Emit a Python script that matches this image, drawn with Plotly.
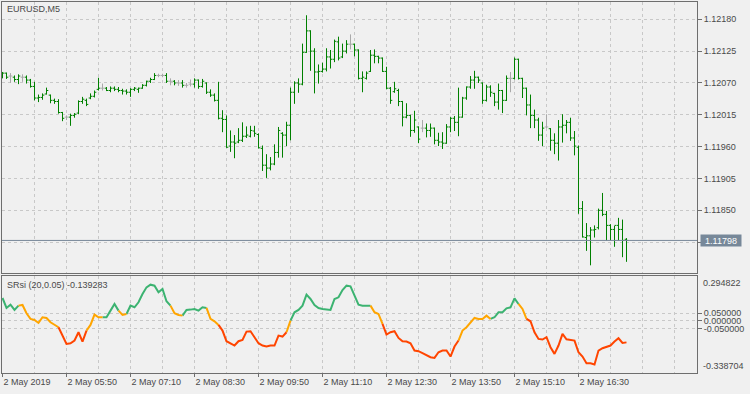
import plotly.graph_objects as go

# ---------------- data ----------------
x_labels = ["2 May 2019", "2 May 05:50", "2 May 07:10", "2 May 08:30", "2 May 09:50",
            "2 May 11:10", "2 May 12:30", "2 May 13:50", "2 May 15:10", "2 May 16:30"]
x_label_pos = [0, 16, 32, 48, 64, 80, 96, 112, 128, 144]

price_ticks = [1.11795, 1.11850, 1.11905, 1.11960, 1.12015, 1.12070, 1.12125, 1.12180]
price_tick_text = ["", "1.11850", "1.11905", "1.11960", "1.12015", "1.12070", "1.12125", "1.12180"]
current_price = 1.11798

ind_ticks = [0.05, 0.0, -0.05]
ind_tick_text = ["0.050000", "0.000000", "-0.050000"]
ind_max = 0.294822
ind_min = -0.338704
ind_last = -0.139283

open_ = [1.12085, 1.12087, 1.12082, 1.12080, 1.12076, 1.12080, 1.12080, 1.12075, 1.12064, 1.12044,
         1.12045, 1.12051, 1.12049, 1.12040, 1.12038, 1.12019, 1.12011, 1.12011, 1.12014, 1.12018,
         1.12038, 1.12040, 1.12044, 1.12047, 1.12059, 1.12061, 1.12061, 1.12057, 1.12061, 1.12059,
         1.12057, 1.12056, 1.12054, 1.12059, 1.12059, 1.12061, 1.12066, 1.12073, 1.12076, 1.12083,
         1.12083, 1.12083, 1.12073, 1.12073, 1.12070, 1.12070, 1.12066, 1.12068, 1.12068, 1.12075,
         1.12064, 1.12070, 1.12054, 1.12049, 1.12040, 1.12009, 1.12007, 1.11961, 1.11968, 1.11968,
         1.11971, 1.11978, 1.11978, 1.11987, 1.11981, 1.11957, 1.11928, 1.11923, 1.11930, 1.11950,
         1.11983, 1.11980, 1.11997, 1.12054, 1.12070, 1.12068, 1.12123, 1.12160, 1.12125, 1.12089,
         1.12090, 1.12094, 1.12115, 1.12111, 1.12141, 1.12115, 1.12125, 1.12137, 1.12137, 1.12127,
         1.12078, 1.12078, 1.12090, 1.12118, 1.12116, 1.12113, 1.12090, 1.12061, 1.12055, 1.12057,
         1.12038, 1.12011, 1.12014, 1.11988, 1.11994, 1.11992, 1.11992, 1.11988, 1.11992, 1.11971,
         1.11968, 1.11966, 1.11994, 1.12009, 1.12002, 1.12011, 1.12044, 1.12063, 1.12075, 1.12080,
         1.12070, 1.12040, 1.12063, 1.12052, 1.12037, 1.12057, 1.12040, 1.12078, 1.12078, 1.12111,
         1.12078, 1.12061, 1.12032, 1.12014, 1.12006, 1.11980, 1.11994, 1.11991, 1.11971, 1.11966,
         1.11994, 1.11997, 1.12002, 1.11975, 1.11959, 1.11853, 1.11803, 1.11806, 1.11816, 1.11820,
         1.11850, 1.11843, 1.11824, 1.11817, 1.11824, 1.11817, 1.11800]
high = [1.12089, 1.12088, 1.12087, 1.12083, 1.12085, 1.12085, 1.12083, 1.12077, 1.12072, 1.12050,
        1.12052, 1.12062, 1.12050, 1.12043, 1.12042, 1.12020, 1.12014, 1.12017, 1.12018, 1.12040,
        1.12046, 1.12043, 1.12052, 1.12057, 1.12079, 1.12069, 1.12063, 1.12064, 1.12064, 1.12063,
        1.12060, 1.12059, 1.12061, 1.12063, 1.12062, 1.12068, 1.12074, 1.12079, 1.12087, 1.12086,
        1.12086, 1.12087, 1.12078, 1.12075, 1.12075, 1.12075, 1.12070, 1.12076, 1.12078, 1.12076,
        1.12077, 1.12071, 1.12059, 1.12052, 1.12072, 1.12023, 1.12014, 1.11988, 1.11980, 1.11992,
        1.12002, 1.11995, 1.11996, 1.11996, 1.11983, 1.11962, 1.11947, 1.11942, 1.11964, 1.11994,
        1.11985, 1.12003, 1.12062, 1.12073, 1.12078, 1.12138, 1.12187, 1.12161, 1.12130, 1.12102,
        1.12105, 1.12130, 1.12127, 1.12145, 1.12150, 1.12138, 1.12144, 1.12154, 1.12138, 1.12128,
        1.12090, 1.12090, 1.12127, 1.12128, 1.12117, 1.12114, 1.12098, 1.12063, 1.12072, 1.12060,
        1.12039, 1.12035, 1.12015, 1.12022, 1.11995, 1.12006, 1.12000, 1.12000, 1.11993, 1.11984,
        1.11985, 1.11999, 1.12011, 1.12013, 1.12062, 1.12046, 1.12064, 1.12082, 1.12091, 1.12081,
        1.12071, 1.12067, 1.12066, 1.12053, 1.12069, 1.12058, 1.12083, 1.12089, 1.12114, 1.12112,
        1.12079, 1.12062, 1.12050, 1.12024, 1.12010, 1.12003, 1.12016, 1.11992, 1.11983, 1.12006,
        1.12016, 1.12006, 1.12010, 1.11987, 1.11962, 1.11866, 1.11828, 1.11821, 1.11824, 1.11853,
        1.11880, 1.11849, 1.11826, 1.11823, 1.11837, 1.11834, 1.11802]
low = [1.12078, 1.12077, 1.12070, 1.12072, 1.12068, 1.12072, 1.12069, 1.12062, 1.12040, 1.12037,
       1.12041, 1.12050, 1.12035, 1.12034, 1.12017, 1.12004, 1.12006, 1.11996, 1.12010, 1.12016,
       1.12034, 1.12030, 1.12042, 1.12045, 1.12057, 1.12057, 1.12056, 1.12054, 1.12056, 1.12054,
       1.12050, 1.12050, 1.12046, 1.12056, 1.12053, 1.12060, 1.12064, 1.12070, 1.12075, 1.12080,
       1.12080, 1.12070, 1.12066, 1.12066, 1.12065, 1.12062, 1.12062, 1.12064, 1.12062, 1.12060,
       1.12062, 1.12051, 1.12046, 1.12038, 1.12007, 1.11985, 1.11958, 1.11951, 1.11940, 1.11966,
       1.11968, 1.11975, 1.11976, 1.11977, 1.11957, 1.11918, 1.11906, 1.11919, 1.11928, 1.11941,
       1.11941, 1.11961, 1.11971, 1.12034, 1.12053, 1.12066, 1.12122, 1.12091, 1.12052, 1.12069,
       1.12088, 1.12090, 1.12095, 1.12106, 1.12109, 1.12113, 1.12121, 1.12128, 1.12116, 1.12076,
       1.12054, 1.12076, 1.12089, 1.12104, 1.12104, 1.12089, 1.12059, 1.12034, 1.12053, 1.12030,
       1.11995, 1.12009, 1.11977, 1.11984, 1.11966, 1.11985, 1.11976, 1.11977, 1.11964, 1.11961,
       1.11956, 1.11965, 1.11985, 1.11987, 1.11978, 1.12010, 1.12041, 1.12060, 1.12060, 1.12070,
       1.12034, 1.12038, 1.12046, 1.12030, 1.12024, 1.12018, 1.12039, 1.12054, 1.12076, 1.12076,
       1.12044, 1.12014, 1.11992, 1.11992, 1.11970, 1.11961, 1.11992, 1.11953, 1.11947, 1.11936,
       1.11967, 1.11983, 1.11970, 1.11945, 1.11844, 1.11803, 1.11780, 1.11755, 1.11803, 1.11817,
       1.11840, 1.11798, 1.11798, 1.11787, 1.11798, 1.11769, 1.11761]
close = [1.12087, 1.12080, 1.12082, 1.12076, 1.12082, 1.12080, 1.12075, 1.12064, 1.12044, 1.12045,
         1.12049, 1.12057, 1.12040, 1.12038, 1.12019, 1.12009, 1.12011, 1.12014, 1.12016, 1.12038,
         1.12042, 1.12033, 1.12047, 1.12054, 1.12061, 1.12061, 1.12057, 1.12061, 1.12059, 1.12057,
         1.12056, 1.12054, 1.12059, 1.12061, 1.12061, 1.12066, 1.12073, 1.12076, 1.12083, 1.12083,
         1.12083, 1.12073, 1.12073, 1.12070, 1.12070, 1.12066, 1.12066, 1.12068, 1.12075, 1.12064,
         1.12073, 1.12054, 1.12049, 1.12040, 1.12009, 1.12007, 1.11959, 1.11968, 1.11966, 1.11971,
         1.11978, 1.11980, 1.11988, 1.11983, 1.11958, 1.11928, 1.11923, 1.11930, 1.11950, 1.11988,
         1.11980, 1.11997, 1.12054, 1.12070, 1.12068, 1.12123, 1.12160, 1.12125, 1.12089, 1.12090,
         1.12094, 1.12115, 1.12111, 1.12142, 1.12113, 1.12125, 1.12137, 1.12137, 1.12127, 1.12078,
         1.12080, 1.12087, 1.12118, 1.12116, 1.12113, 1.12090, 1.12061, 1.12040, 1.12060, 1.12038,
         1.12011, 1.12014, 1.11988, 1.12006, 1.11973, 1.11992, 1.11988, 1.11992, 1.11971, 1.11968,
         1.11966, 1.11994, 1.12009, 1.12002, 1.12011, 1.12044, 1.12063, 1.12075, 1.12080, 1.12075,
         1.12040, 1.12063, 1.12054, 1.12037, 1.12057, 1.12040, 1.12078, 1.12078, 1.12111, 1.12078,
         1.12061, 1.12032, 1.12014, 1.12006, 1.11980, 1.11992, 1.11994, 1.11971, 1.11966, 1.11994,
         1.11997, 1.12002, 1.11975, 1.11961, 1.11853, 1.11804, 1.11806, 1.11816, 1.11817, 1.11850,
         1.11843, 1.11824, 1.11817, 1.11824, 1.11817, 1.11798, 1.11798]

srsi = [0.1497, 0.0847, 0.1064, 0.0717, 0.0999, 0.1042, 0.0501, 0.0133, 0.0068, -0.0127,
        0.0241, 0.0197, -0.0084, -0.0236, -0.0409, -0.0950, -0.1492, -0.1449, -0.1275, -0.0734,
        -0.1340, -0.0626, -0.0257, 0.0414, 0.0241, 0.0241, 0.0241, 0.0674, 0.1107, 0.0674,
        0.0392, 0.0457, 0.0999, 0.0891, 0.1215, 0.1757, 0.2190, 0.2363, 0.2299, 0.1865,
        0.2082, 0.1281, 0.0999, 0.0501, 0.0392, 0.0349, 0.0717, 0.0739, 0.0782, 0.0674,
        0.0891, 0.0847, 0.0133, -0.0019, -0.0257, -0.0626, -0.1319, -0.1449, -0.1600, -0.1319,
        -0.1232, -0.0691, -0.0669, -0.1059, -0.1449, -0.1600, -0.1665, -0.1600, -0.1600, -0.0950,
        -0.1015, -0.0734, 0.0024, 0.0566, 0.0717, 0.0999, 0.1714, 0.1432, 0.1042, 0.0847,
        0.0782, 0.0739, 0.0717, 0.1432, 0.1540, 0.2017, 0.2299, 0.2255, 0.1714, 0.1064,
        0.0999, 0.0999, 0.0999, 0.0566, 0.0457, -0.0192, -0.0885, -0.0734, -0.0669, -0.1102,
        -0.1319, -0.1340, -0.1449, -0.1925, -0.1968, -0.2099, -0.2250, -0.2358, -0.2402, -0.2034,
        -0.1925, -0.1925, -0.2315, -0.1665, -0.1275, -0.0626, -0.0409, -0.0084, 0.0197, 0.0133,
        0.0133, 0.0349, 0.0133, 0.0241, 0.0566, 0.0566, 0.0826, 0.0891, 0.1475, 0.1107,
        0.0782, 0.0133, -0.0019, -0.0734, -0.1167, -0.1210, -0.1059, -0.1709, -0.2142, -0.1600,
        -0.0842, -0.1189, -0.1232, -0.1275, -0.2034, -0.2315, -0.2748, -0.2748, -0.2835, -0.1925,
        -0.1774, -0.1665, -0.1600, -0.1340, -0.1124, -0.1427, -0.139283]

# colour state of each indicator point: G = up, O = neutral, R = down
srsi_state = list("GGGGG" "OOOOOOOOOO" "RRRRRRR" "OOOO" "GGGG" "OO" "GGGGGGGGGGG" "OOO"
                  "GGGGGG" "OOO" "RRRRRRRRRRRRRRRRR" "O" "GGGGGGGGGGGGGGGGGGGG" "OOO"
                  "RRRRRRRRRRRRRRRRRRR" "OOOOOOOO" "GGGGGGG" "OO" "RRRRRRRRRRRRRRRRRRRRRRRRR")

# ---------------- styling ----------------
BG = "#F0F0F0"
GRID = "#C8C8C8"
FRAME = "#6E6E6E"
TXT = "#4A4A4A"
BAR_GREEN = "#008000"
DOJI_GRAY = "#A9A9A9"
PRICE_LINE = "#778899"
STATE_COLORS = {"G": "#3CB371", "O": "#FFA500", "R": "#FF4500"}
FONT = "Liberation Sans, Arial, sans-serif"
FS = 9

n = len(close)
idx = list(range(n))
doji = [open_[i] == close[i] for i in idx]

fig = go.Figure()

nd = [i for i in idx if not doji[i]]
dj = [i for i in idx if doji[i]]
fig.add_trace(go.Ohlc(
    x=nd, open=[open_[i] for i in nd], high=[high[i] for i in nd],
    low=[low[i] for i in nd], close=[close[i] for i in nd],
    increasing=dict(line=dict(color=BAR_GREEN, width=1)),
    decreasing=dict(line=dict(color=BAR_GREEN, width=1)),
    tickwidth=0.45, xaxis="x", yaxis="y", hoverinfo="skip", showlegend=False))
fig.add_trace(go.Ohlc(
    x=dj, open=[open_[i] for i in dj], high=[high[i] for i in dj],
    low=[low[i] for i in dj], close=[close[i] for i in dj],
    increasing=dict(line=dict(color=DOJI_GRAY, width=1)),
    decreasing=dict(line=dict(color=DOJI_GRAY, width=1)),
    tickwidth=0.45, xaxis="x", yaxis="y", hoverinfo="skip", showlegend=False))

# indicator: one trace per colour, segment (i-1 -> i) uses colour of point i
for key, col in STATE_COLORS.items():
    xs, ys = [], []
    for i in range(1, n):
        if srsi_state[i] == key:
            if xs and xs[-1] == i - 1:
                xs.append(i); ys.append(srsi[i])
            else:
                if xs:
                    xs.append(None); ys.append(None)
                xs += [i - 1, i]; ys += [srsi[i - 1], srsi[i]]
    fig.add_trace(go.Scatter(x=xs, y=ys, mode="lines", line=dict(color=col, width=2),
                             xaxis="x2", yaxis="y2", hoverinfo="skip", showlegend=False,
                             connectgaps=False))

XR = [-0.125, 173.625]
common_x = dict(range=XR, showline=True, mirror=True, linecolor=FRAME, linewidth=1,
                zeroline=False, showgrid=True, gridcolor=GRID, griddash="3px,3px", gridwidth=1,
                tickmode="array", tickvals=x_label_pos,
                minor=dict(tickmode="linear", tick0=0, dtick=8, showgrid=True,
                           gridcolor=GRID, griddash="3px,3px", gridwidth=1, ticks=""),
                rangeslider=dict(visible=False), fixedrange=True)

fig.update_layout(
    width=750, height=394, autosize=False,
    margin=dict(l=2, r=53, t=2, b=21),
    paper_bgcolor=BG, plot_bgcolor=BG,
    font=dict(family=FONT, size=FS, color=TXT),
    hovermode=False, showlegend=False,
    xaxis=dict(common_x, domain=[0, 1], anchor="y", showticklabels=False, ticks="",
               matches="x2"),
    xaxis2=dict(common_x, domain=[0, 1], anchor="y2", ticktext=x_labels,
                ticks="outside", ticklen=3, tickcolor=FRAME,
                ticklabelposition="outside right",
                tickfont=dict(family=FONT, size=FS, color=TXT)),
    yaxis=dict(domain=[0.2695, 1], anchor="x", side="right",
               range=[1.117417, 1.122099], tickmode="array",
               tickvals=price_ticks, ticktext=price_tick_text,
               ticks="outside", ticklen=4, tickcolor=FRAME,
               showgrid=True, gridcolor=GRID, griddash="3px,3px", gridwidth=1,
               showline=True, mirror=True, linecolor=FRAME, linewidth=1,
               zeroline=False, fixedrange=True,
               tickfont=dict(family=FONT, size=FS, color=TXT)),
    yaxis2=dict(domain=[0, 0.2623], anchor="x2", side="right",
                range=[ind_min, ind_max], tickmode="array",
                tickvals=ind_ticks, ticktext=ind_tick_text,
                ticks="outside", ticklen=4, tickcolor=FRAME,
                showgrid=True, gridcolor=GRID, griddash="3px,3px", gridwidth=1,
                showline=True, mirror=True, linecolor=FRAME, linewidth=1,
                zeroline=False, fixedrange=True,
                tickfont=dict(family=FONT, size=FS, color=TXT)),
)

# current price line and label
fig.add_shape(type="line", xref="x domain", yref="y", x0=0, x1=1,
              y0=current_price, y1=current_price, line=dict(color=PRICE_LINE, width=1))
fig.add_annotation(xref="paper", yref="y", x=1, y=current_price, xanchor="left",
                   yanchor="middle", xshift=3, text=f"{current_price:.5f}", showarrow=False,
                   bgcolor=PRICE_LINE, width=38, height=9, borderpad=1,
                   font=dict(family=FONT, size=FS, color="white"))

# indicator max/min scale labels
fig.add_annotation(xref="paper", yref="y2", x=1, y=ind_max, xanchor="left", yanchor="top",
                   xshift=4, text=f"{ind_max:.6f}", showarrow=False,
                   font=dict(family=FONT, size=FS, color=TXT))
fig.add_annotation(xref="paper", yref="y2", x=1, y=ind_min, xanchor="left", yanchor="bottom",
                   xshift=4, text=f"{ind_min:.6f}", showarrow=False,
                   font=dict(family=FONT, size=FS, color=TXT))

# window captions
fig.add_annotation(xref="paper", yref="y domain", x=0, y=1, xanchor="left", yanchor="top",
                   xshift=3, yshift=0, text="EURUSD,M5", showarrow=False,
                   font=dict(family=FONT, size=FS, color=TXT))
fig.add_annotation(xref="paper", yref="y2 domain", x=0, y=1, xanchor="left", yanchor="top",
                   xshift=3, yshift=-2, text=f"SRsi (20,0.05) {ind_last:.6f}", showarrow=False,
                   font=dict(family=FONT, size=FS, color=TXT))

fig.write_html("out.html", config={"displayModeBar": False})
